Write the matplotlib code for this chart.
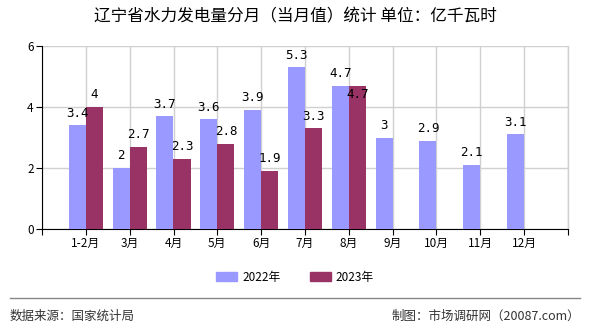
import matplotlib
matplotlib.use("Agg")
import matplotlib.pyplot as plt
from matplotlib.patches import Patch
import numpy as np

plt.rcParams['font.family'] = ['Noto Sans CJK SC', 'DejaVu Sans']

categories = ["1-2月", "3月", "4月", "5月", "6月", "7月", "8月", "9月", "10月", "11月", "12月"]
v2022 = [3.4, 2, 3.7, 3.6, 3.9, 5.3, 4.7, 3, 2.9, 2.1, 3.1]
v2023 = [4, 2.7, 2.3, 2.8, 1.9, 3.3, 4.7, None, None, None, None]
series_names = ["2022年", "2023年"]
colors = ["#9999FF", "#993366"]
title = "辽宁省水力发电量分月（当月值）统计 单位：亿千瓦时"

W, H = 590, 330
fig = plt.figure(figsize=(W/100, H/100), dpi=100)
ax = fig.add_axes([42/W, 1-229/H, (568-42)/W, (229-46)/H])

x = np.arange(len(categories))
bw = 0.39
ax.bar(x - bw/2, v2022, width=bw, color=colors[0], zorder=3)
x23 = [i for i, v in enumerate(v2023) if v is not None]
y23 = [v for v in v2023 if v is not None]
ax.bar(np.array(x23) + bw/2, y23, width=bw, color=colors[1], zorder=3)

def fmt(v):
    return f"{v:g}"

for i, v in enumerate(v2022):
    ax.annotate(fmt(v), (i - bw/2, v), xytext=(0, 4), textcoords="offset points",
                ha="center", va="bottom", fontsize=9, family="DejaVu Sans Mono", zorder=4)
for i, v in zip(x23, y23):
    off = 4
    va = "bottom"
    if abs(v - v2022[i]) < 0.05:
        off = -2
        va = "top"
    ax.annotate(fmt(v), (i + bw/2, v), xytext=(0, off), textcoords="offset points",
                ha="center", va=va, fontsize=9, family="DejaVu Sans Mono", zorder=4)

ax.set_xlim(-1, 11)
ax.set_ylim(0, 6)
ax.set_xticks(list(x) + [-1, 11])
ax.set_xticklabels(categories + ["", ""], fontsize=8.5)
ax.set_yticks([0, 2, 4, 6])
ax.set_yticklabels(["0", "2", "4", "6"], fontsize=8.5)
ax.grid(True, color="#d0d0d0", linewidth=1, zorder=0)
ax.axvline(11, color="#d0d0d0", linewidth=1, zorder=0, clip_on=False)
for s in ["top", "right"]:
    ax.spines[s].set_visible(False)
ax.spines["left"].set_color("black")
ax.spines["bottom"].set_color("black")
ax.tick_params(axis="both", length=4, color="black", pad=2)

fig.text(0.5, 1-17/H, title, ha="center", va="center", fontsize=12)

handles = [Patch(color=colors[0]), Patch(color=colors[1])]
fig.legend(handles, series_names, loc="center", bbox_to_anchor=(0.5, 1-277/H), ncol=2,
           frameon=False, fontsize=8.5, handlelength=1.8, handleheight=0.7,
           columnspacing=2.5, handletextpad=0.4)

fig.add_artist(plt.Line2D([10/W, 580/W], [1-298/H, 1-298/H], color="#888888", linewidth=1))
fig.text(10/W, 1-316/H, "数据来源：国家统计局", ha="left", va="center", fontsize=9, color="#333333")
fig.text(580/W, 1-316/H, "制图：市场调研网（20087.com）", ha="right", va="center", fontsize=9, color="#333333")

fig.savefig("out.png", dpi=100)
